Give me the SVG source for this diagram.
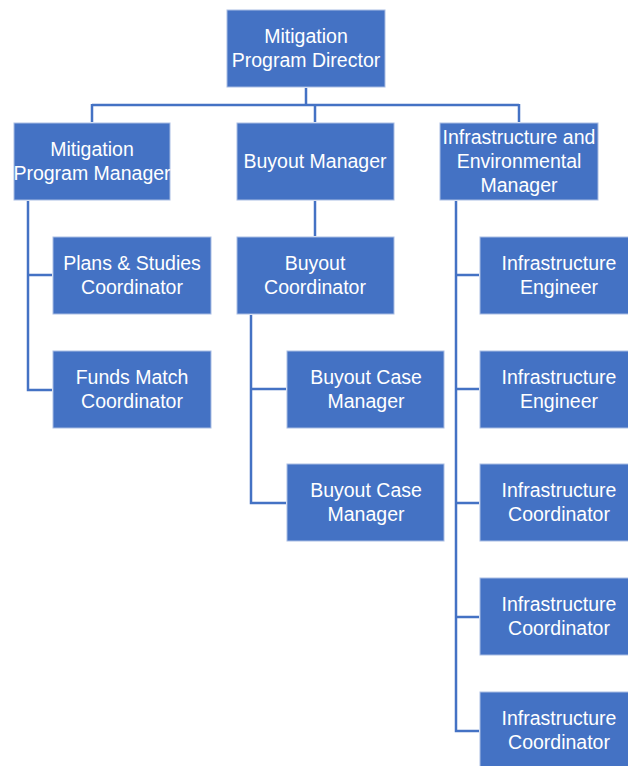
<svg xmlns="http://www.w3.org/2000/svg" width="628" height="766" viewBox="0 0 628 766">
<style>
.box{fill:#4472C4;stroke:#A9BDE3;stroke-width:1}
.t{font-family:"Liberation Sans",Arial,sans-serif;font-size:19.5px;fill:#ffffff;text-anchor:middle}
.c{fill:none;stroke:#4472C4;stroke-width:2.5}
</style>
<rect width="628" height="766" fill="#ffffff"/>
<g id="connectors">
<path class="c" d="M306,88 V105 M92,105 H519 M92,104 V122 M315,104 V122 M519,104 V122"/>
<path class="c" d="M28,201 V390 H52 M28,275 H52"/>
<path class="c" d="M315,201 V236"/>
<path class="c" d="M251,315 V503 H286 M251,389 H286"/>
<path class="c" d="M456,201 V731 H479 M456,275 H479 M456,389 H479 M456,503 H479 M456,617 H479"/>
</g>
<g id="director"><rect class="box" x="227" y="10" width="158" height="77"/><text class="t" x="306" y="43">Mitigation</text><text class="t" x="306" y="67">Program Director</text></g>
<g id="mpm"><rect class="box" x="14" y="123" width="156" height="77"/><text class="t" x="92" y="156">Mitigation</text><text class="t" x="92" y="180">Program Manager</text></g>
<g id="bm"><rect class="box" x="237" y="123" width="157" height="77"/><text class="t" x="315" y="168">Buyout Manager</text></g>
<g id="iem"><rect class="box" x="440" y="123" width="158" height="77"/><text class="t" x="519" y="144">Infrastructure and</text><text class="t" x="519" y="168">Environmental</text><text class="t" x="519" y="192">Manager</text></g>
<g id="psc"><rect class="box" x="53" y="237" width="158" height="77"/><text class="t" x="132" y="270">Plans &amp; Studies</text><text class="t" x="132" y="294">Coordinator</text></g>
<g id="fmc"><rect class="box" x="53" y="351" width="158" height="77"/><text class="t" x="132" y="384">Funds Match</text><text class="t" x="132" y="408">Coordinator</text></g>
<g id="bc"><rect class="box" x="237" y="237" width="157" height="77"/><text class="t" x="315" y="270">Buyout</text><text class="t" x="315" y="294">Coordinator</text></g>
<g id="bcm1"><rect class="box" x="287" y="351" width="157" height="77"/><text class="t" x="366" y="384">Buyout Case</text><text class="t" x="366" y="408">Manager</text></g>
<g id="bcm2"><rect class="box" x="287" y="464" width="157" height="77"/><text class="t" x="366" y="497">Buyout Case</text><text class="t" x="366" y="521">Manager</text></g>
<g id="ie1"><rect class="box" x="480" y="237" width="158" height="77"/><text class="t" x="559" y="270">Infrastructure</text><text class="t" x="559" y="294">Engineer</text></g>
<g id="ie2"><rect class="box" x="480" y="351" width="158" height="77"/><text class="t" x="559" y="384">Infrastructure</text><text class="t" x="559" y="408">Engineer</text></g>
<g id="ic1"><rect class="box" x="480" y="464" width="158" height="77"/><text class="t" x="559" y="497">Infrastructure</text><text class="t" x="559" y="521">Coordinator</text></g>
<g id="ic2"><rect class="box" x="480" y="578" width="158" height="77"/><text class="t" x="559" y="611">Infrastructure</text><text class="t" x="559" y="635">Coordinator</text></g>
<g id="ic3"><rect class="box" x="480" y="692" width="158" height="77"/><text class="t" x="559" y="725">Infrastructure</text><text class="t" x="559" y="749">Coordinator</text></g>
</svg>
